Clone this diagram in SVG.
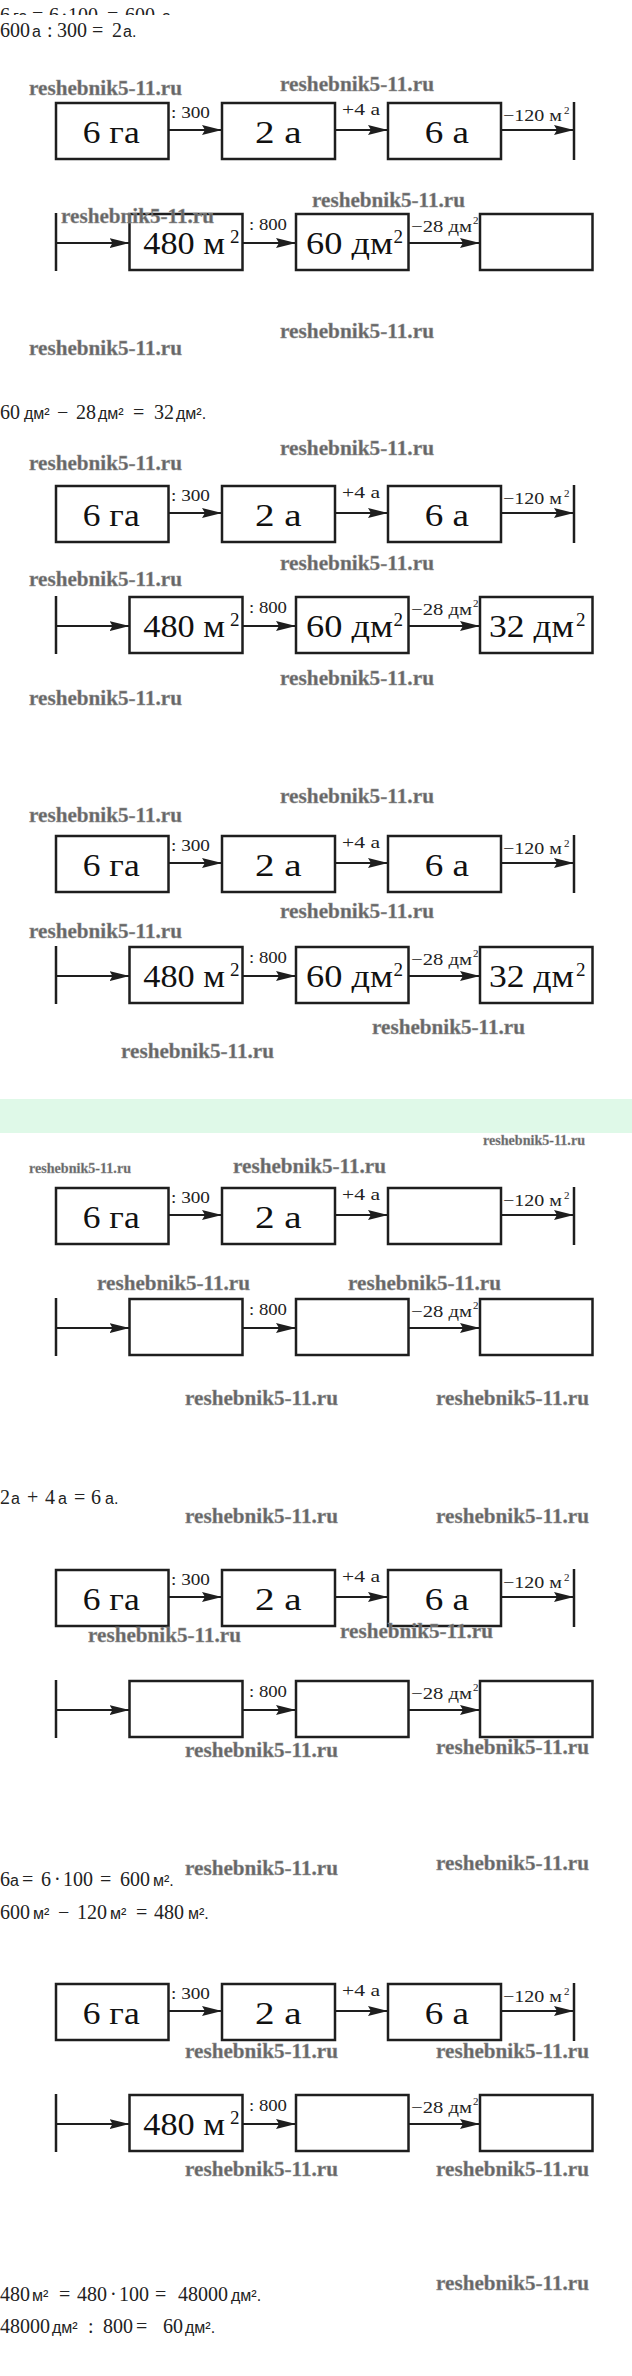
<svg xmlns="http://www.w3.org/2000/svg" width="632" height="2376" viewBox="0 0 632 2376">
<style>
.box{fill:#fff;stroke:#1e1e1e;stroke-width:2.5}
.bar{stroke:#1e1e1e;stroke-width:2.5}
.arr{stroke:#1e1e1e;stroke-width:2.2;fill:none;marker-end:url(#ah)}
.bt{font-family:"Liberation Serif",serif;font-size:31px;fill:#111}
.sp{font-family:"Liberation Serif",serif;font-size:19px;fill:#111}
.lb{font-family:"Liberation Serif",serif;font-size:17px;fill:#222}
.ls{font-family:"Liberation Serif",serif;font-size:11px;fill:#222}
.wm{font-family:"Liberation Serif",serif;font-weight:bold;font-size:20px;fill:#666;stroke:#999;stroke-width:0.4}
.ws{font-family:"Liberation Serif",serif;font-weight:bold;font-size:14px;fill:#666;stroke:#999;stroke-width:0.3}
.tx{font-family:"Liberation Serif",serif;font-size:20px;fill:#222}
.u{font-family:"Liberation Sans",sans-serif;font-size:16px}
</style>
<defs>
<marker id="ah" markerUnits="userSpaceOnUse" markerWidth="20" markerHeight="10" refX="20" refY="5" orient="auto" viewBox="0 0 20 10"><path d="M0,0 L20,5 L0,10 L3,5 Z" fill="#1e1e1e"/></marker>
<clipPath id="clip0"><rect x="0" y="0" width="632" height="15"/></clipPath>
</defs>
<rect width="632" height="2376" fill="#fff"/>
<rect id="band" x="0" y="1099" width="632" height="34" fill="#dff9e8"/>

<g id="texts">
<text class="tx" y="22" clip-path="url(#clip0)"><tspan x="0">6</tspan><tspan x="13" class="u">га</tspan><tspan x="32">=</tspan><tspan x="49">6</tspan><tspan x="61">·</tspan><tspan x="68">100</tspan><tspan x="107">=</tspan><tspan x="125">600</tspan><tspan x="162" class="u">а</tspan></text>
<text class="tx" y="36.7"><tspan x="0">600</tspan><tspan x="32" class="u">а</tspan><tspan x="47">:</tspan><tspan x="57">300</tspan><tspan x="92">=</tspan><tspan x="112">2</tspan><tspan x="123" class="u">а.</tspan></text>
<text class="tx" y="419.3"><tspan x="0">60</tspan><tspan x="24" class="u">дм²</tspan><tspan x="57">−</tspan><tspan x="76">28</tspan><tspan x="98" class="u">дм²</tspan><tspan x="133">=</tspan><tspan x="154">32</tspan><tspan x="176" class="u">дм².</tspan></text>
<text class="tx" y="1504"><tspan x="0">2</tspan><tspan x="11" class="u">а</tspan><tspan x="27">+</tspan><tspan x="45">4</tspan><tspan x="58" class="u">а</tspan><tspan x="74">=</tspan><tspan x="91">6</tspan><tspan x="105" class="u">а.</tspan></text>
<text class="tx" y="1886"><tspan x="0">6</tspan><tspan x="10" class="u">а</tspan><tspan x="22">=</tspan><tspan x="41">6</tspan><tspan x="54">·</tspan><tspan x="63">100</tspan><tspan x="100">=</tspan><tspan x="120">600</tspan><tspan x="153" class="u">м².</tspan></text>
<text class="tx" y="1919"><tspan x="0">600</tspan><tspan x="33" class="u">м²</tspan><tspan x="58">−</tspan><tspan x="77">120</tspan><tspan x="110" class="u">м²</tspan><tspan x="136">=</tspan><tspan x="154">480</tspan><tspan x="188" class="u">м².</tspan></text>
<text class="tx" y="2301"><tspan x="0">480</tspan><tspan x="32" class="u">м²</tspan><tspan x="59">=</tspan><tspan x="77">480</tspan><tspan x="110">·</tspan><tspan x="119">100</tspan><tspan x="155">=</tspan><tspan x="178">48000</tspan><tspan x="231" class="u">дм².</tspan></text>
<text class="tx" y="2333"><tspan x="0">48000</tspan><tspan x="52" class="u">дм²</tspan><tspan x="88">:</tspan><tspan x="103">800</tspan><tspan x="136">=</tspan><tspan x="163">60</tspan><tspan x="185" class="u">дм².</tspan></text>
</g>

<g id="connectors">
<g transform="translate(0,103)">
<line class="arr" x1="168.5" y1="27" x2="222" y2="27"/><line class="arr" x1="335" y1="27" x2="388" y2="27"/><line class="arr" x1="501" y1="27" x2="574" y2="27"/>
<line class="arr" x1="56" y1="140" x2="129.5" y2="140"/><line class="arr" x1="242.5" y1="140" x2="296" y2="140"/><line class="arr" x1="408.5" y1="140" x2="480" y2="140"/>
</g>
<g transform="translate(0,486)">
<line class="arr" x1="168.5" y1="27" x2="222" y2="27"/><line class="arr" x1="335" y1="27" x2="388" y2="27"/><line class="arr" x1="501" y1="27" x2="574" y2="27"/>
<line class="arr" x1="56" y1="140" x2="129.5" y2="140"/><line class="arr" x1="242.5" y1="140" x2="296" y2="140"/><line class="arr" x1="408.5" y1="140" x2="480" y2="140"/>
</g>
<g transform="translate(0,836)">
<line class="arr" x1="168.5" y1="27" x2="222" y2="27"/><line class="arr" x1="335" y1="27" x2="388" y2="27"/><line class="arr" x1="501" y1="27" x2="574" y2="27"/>
<line class="arr" x1="56" y1="140" x2="129.5" y2="140"/><line class="arr" x1="242.5" y1="140" x2="296" y2="140"/><line class="arr" x1="408.5" y1="140" x2="480" y2="140"/>
</g>
<g transform="translate(0,1188)">
<line class="arr" x1="168.5" y1="27" x2="222" y2="27"/><line class="arr" x1="335" y1="27" x2="388" y2="27"/><line class="arr" x1="501" y1="27" x2="574" y2="27"/>
<line class="arr" x1="56" y1="140" x2="129.5" y2="140"/><line class="arr" x1="242.5" y1="140" x2="296" y2="140"/><line class="arr" x1="408.5" y1="140" x2="480" y2="140"/>
</g>
<g transform="translate(0,1570)">
<line class="arr" x1="168.5" y1="27" x2="222" y2="27"/><line class="arr" x1="335" y1="27" x2="388" y2="27"/><line class="arr" x1="501" y1="27" x2="574" y2="27"/>
<line class="arr" x1="56" y1="140" x2="129.5" y2="140"/><line class="arr" x1="242.5" y1="140" x2="296" y2="140"/><line class="arr" x1="408.5" y1="140" x2="480" y2="140"/>
</g>
<g transform="translate(0,1984)">
<line class="arr" x1="168.5" y1="27" x2="222" y2="27"/><line class="arr" x1="335" y1="27" x2="388" y2="27"/><line class="arr" x1="501" y1="27" x2="574" y2="27"/>
<line class="arr" x1="56" y1="140" x2="129.5" y2="140"/><line class="arr" x1="242.5" y1="140" x2="296" y2="140"/><line class="arr" x1="408.5" y1="140" x2="480" y2="140"/>
</g>
</g>

<g id="labels">
<g transform="translate(0,103)"><text class="lb" x="171" y="15" textLength="39" lengthAdjust="spacingAndGlyphs">: 300</text><text class="lb" x="342" y="11.5" textLength="38" lengthAdjust="spacingAndGlyphs">+4 а</text><text class="lb" x="503" y="18" textLength="59" lengthAdjust="spacingAndGlyphs">−120 м</text><text class="ls" x="564" y="11">2</text><text class="lb" x="249" y="127" textLength="38" lengthAdjust="spacingAndGlyphs">: 800</text><text class="lb" x="411" y="129" textLength="61" lengthAdjust="spacingAndGlyphs">−28 дм</text><text class="ls" x="473" y="121">2</text></g>
<g transform="translate(0,486)"><text class="lb" x="171" y="15" textLength="39" lengthAdjust="spacingAndGlyphs">: 300</text><text class="lb" x="342" y="11.5" textLength="38" lengthAdjust="spacingAndGlyphs">+4 а</text><text class="lb" x="503" y="18" textLength="59" lengthAdjust="spacingAndGlyphs">−120 м</text><text class="ls" x="564" y="11">2</text><text class="lb" x="249" y="127" textLength="38" lengthAdjust="spacingAndGlyphs">: 800</text><text class="lb" x="411" y="129" textLength="61" lengthAdjust="spacingAndGlyphs">−28 дм</text><text class="ls" x="473" y="121">2</text></g>
<g transform="translate(0,836)"><text class="lb" x="171" y="15" textLength="39" lengthAdjust="spacingAndGlyphs">: 300</text><text class="lb" x="342" y="11.5" textLength="38" lengthAdjust="spacingAndGlyphs">+4 а</text><text class="lb" x="503" y="18" textLength="59" lengthAdjust="spacingAndGlyphs">−120 м</text><text class="ls" x="564" y="11">2</text><text class="lb" x="249" y="127" textLength="38" lengthAdjust="spacingAndGlyphs">: 800</text><text class="lb" x="411" y="129" textLength="61" lengthAdjust="spacingAndGlyphs">−28 дм</text><text class="ls" x="473" y="121">2</text></g>
<g transform="translate(0,1188)"><text class="lb" x="171" y="15" textLength="39" lengthAdjust="spacingAndGlyphs">: 300</text><text class="lb" x="342" y="11.5" textLength="38" lengthAdjust="spacingAndGlyphs">+4 а</text><text class="lb" x="503" y="18" textLength="59" lengthAdjust="spacingAndGlyphs">−120 м</text><text class="ls" x="564" y="11">2</text><text class="lb" x="249" y="127" textLength="38" lengthAdjust="spacingAndGlyphs">: 800</text><text class="lb" x="411" y="129" textLength="61" lengthAdjust="spacingAndGlyphs">−28 дм</text><text class="ls" x="473" y="121">2</text></g>
<g transform="translate(0,1570)"><text class="lb" x="171" y="15" textLength="39" lengthAdjust="spacingAndGlyphs">: 300</text><text class="lb" x="342" y="11.5" textLength="38" lengthAdjust="spacingAndGlyphs">+4 а</text><text class="lb" x="503" y="18" textLength="59" lengthAdjust="spacingAndGlyphs">−120 м</text><text class="ls" x="564" y="11">2</text><text class="lb" x="249" y="127" textLength="38" lengthAdjust="spacingAndGlyphs">: 800</text><text class="lb" x="411" y="129" textLength="61" lengthAdjust="spacingAndGlyphs">−28 дм</text><text class="ls" x="473" y="121">2</text></g>
<g transform="translate(0,1984)"><text class="lb" x="171" y="15" textLength="39" lengthAdjust="spacingAndGlyphs">: 300</text><text class="lb" x="342" y="11.5" textLength="38" lengthAdjust="spacingAndGlyphs">+4 а</text><text class="lb" x="503" y="18" textLength="59" lengthAdjust="spacingAndGlyphs">−120 м</text><text class="ls" x="564" y="11">2</text><text class="lb" x="249" y="127" textLength="38" lengthAdjust="spacingAndGlyphs">: 800</text><text class="lb" x="411" y="129" textLength="61" lengthAdjust="spacingAndGlyphs">−28 дм</text><text class="ls" x="473" y="121">2</text></g>
</g>

<!-- Diagram 1 -->
<g transform="translate(0,103)">
<g id="d1-n1"><rect class="box" x="56" y="0" width="112.5" height="56"/><text class="bt" x="82.7" y="40" textLength="57" lengthAdjust="spacingAndGlyphs">6 га</text></g>
<g id="d1-n2"><rect class="box" x="222" y="0" width="113" height="56"/><text class="bt" x="255" y="40" textLength="46.7" lengthAdjust="spacingAndGlyphs">2 а</text></g>
<g id="d1-n3"><rect class="box" x="388" y="0" width="113" height="56"/><text class="bt" x="424.7" y="40" textLength="44.3" lengthAdjust="spacingAndGlyphs">6 а</text></g>
<g id="d1-end"><line class="bar" x1="574" y1="-1" x2="574" y2="57"/></g>
<g id="d1-start"><line class="bar" x1="56" y1="110" x2="56" y2="168"/></g>
<g id="d1-n4"><rect class="box" x="129.5" y="111" width="113" height="56"/><text class="bt" x="143.3" y="151" textLength="81.7" lengthAdjust="spacingAndGlyphs">480 м</text><text class="sp" x="230" y="140">2</text></g>
<g id="d1-n5"><rect class="box" x="296" y="111" width="112.5" height="56"/><text class="bt" x="306" y="151" textLength="87" lengthAdjust="spacingAndGlyphs">60 дм</text><text class="sp" x="393.5" y="140">2</text></g>
<g id="d1-n6"><rect class="box" x="480" y="111" width="112.5" height="56"/></g>
</g>

<!-- Diagram 2 -->
<g transform="translate(0,486)">
<g id="d2-n1"><rect class="box" x="56" y="0" width="112.5" height="56"/><text class="bt" x="82.7" y="40" textLength="57" lengthAdjust="spacingAndGlyphs">6 га</text></g>
<g id="d2-n2"><rect class="box" x="222" y="0" width="113" height="56"/><text class="bt" x="255" y="40" textLength="46.7" lengthAdjust="spacingAndGlyphs">2 а</text></g>
<g id="d2-n3"><rect class="box" x="388" y="0" width="113" height="56"/><text class="bt" x="424.7" y="40" textLength="44.3" lengthAdjust="spacingAndGlyphs">6 а</text></g>
<g id="d2-end"><line class="bar" x1="574" y1="-1" x2="574" y2="57"/></g>
<g id="d2-start"><line class="bar" x1="56" y1="110" x2="56" y2="168"/></g>
<g id="d2-n4"><rect class="box" x="129.5" y="111" width="113" height="56"/><text class="bt" x="143.3" y="151" textLength="81.7" lengthAdjust="spacingAndGlyphs">480 м</text><text class="sp" x="230" y="140">2</text></g>
<g id="d2-n5"><rect class="box" x="296" y="111" width="112.5" height="56"/><text class="bt" x="306" y="151" textLength="87" lengthAdjust="spacingAndGlyphs">60 дм</text><text class="sp" x="393.5" y="140">2</text></g>
<g id="d2-n6"><rect class="box" x="480" y="111" width="112.5" height="56"/><text class="bt" x="489" y="151" textLength="85" lengthAdjust="spacingAndGlyphs">32 дм</text><text class="sp" x="576" y="140">2</text></g>
</g>

<!-- Diagram 3 -->
<g transform="translate(0,836)">
<g id="d3-n1"><rect class="box" x="56" y="0" width="112.5" height="56"/><text class="bt" x="82.7" y="40" textLength="57" lengthAdjust="spacingAndGlyphs">6 га</text></g>
<g id="d3-n2"><rect class="box" x="222" y="0" width="113" height="56"/><text class="bt" x="255" y="40" textLength="46.7" lengthAdjust="spacingAndGlyphs">2 а</text></g>
<g id="d3-n3"><rect class="box" x="388" y="0" width="113" height="56"/><text class="bt" x="424.7" y="40" textLength="44.3" lengthAdjust="spacingAndGlyphs">6 а</text></g>
<g id="d3-end"><line class="bar" x1="574" y1="-1" x2="574" y2="57"/></g>
<g id="d3-start"><line class="bar" x1="56" y1="110" x2="56" y2="168"/></g>
<g id="d3-n4"><rect class="box" x="129.5" y="111" width="113" height="56"/><text class="bt" x="143.3" y="151" textLength="81.7" lengthAdjust="spacingAndGlyphs">480 м</text><text class="sp" x="230" y="140">2</text></g>
<g id="d3-n5"><rect class="box" x="296" y="111" width="112.5" height="56"/><text class="bt" x="306" y="151" textLength="87" lengthAdjust="spacingAndGlyphs">60 дм</text><text class="sp" x="393.5" y="140">2</text></g>
<g id="d3-n6"><rect class="box" x="480" y="111" width="112.5" height="56"/><text class="bt" x="489" y="151" textLength="85" lengthAdjust="spacingAndGlyphs">32 дм</text><text class="sp" x="576" y="140">2</text></g>
</g>

<!-- Diagram 4 -->
<g transform="translate(0,1188)">
<g id="d4-n1"><rect class="box" x="56" y="0" width="112.5" height="56"/><text class="bt" x="82.7" y="40" textLength="57" lengthAdjust="spacingAndGlyphs">6 га</text></g>
<g id="d4-n2"><rect class="box" x="222" y="0" width="113" height="56"/><text class="bt" x="255" y="40" textLength="46.7" lengthAdjust="spacingAndGlyphs">2 а</text></g>
<g id="d4-n3"><rect class="box" x="388" y="0" width="113" height="56"/></g>
<g id="d4-end"><line class="bar" x1="574" y1="-1" x2="574" y2="57"/></g>
<g id="d4-start"><line class="bar" x1="56" y1="110" x2="56" y2="168"/></g>
<g id="d4-n4"><rect class="box" x="129.5" y="111" width="113" height="56"/></g>
<g id="d4-n5"><rect class="box" x="296" y="111" width="112.5" height="56"/></g>
<g id="d4-n6"><rect class="box" x="480" y="111" width="112.5" height="56"/></g>
</g>

<!-- Diagram 5 -->
<g transform="translate(0,1570)">
<g id="d5-n1"><rect class="box" x="56" y="0" width="112.5" height="56"/><text class="bt" x="82.7" y="40" textLength="57" lengthAdjust="spacingAndGlyphs">6 га</text></g>
<g id="d5-n2"><rect class="box" x="222" y="0" width="113" height="56"/><text class="bt" x="255" y="40" textLength="46.7" lengthAdjust="spacingAndGlyphs">2 а</text></g>
<g id="d5-n3"><rect class="box" x="388" y="0" width="113" height="56"/><text class="bt" x="424.7" y="40" textLength="44.3" lengthAdjust="spacingAndGlyphs">6 а</text></g>
<g id="d5-end"><line class="bar" x1="574" y1="-1" x2="574" y2="57"/></g>
<g id="d5-start"><line class="bar" x1="56" y1="110" x2="56" y2="168"/></g>
<g id="d5-n4"><rect class="box" x="129.5" y="111" width="113" height="56"/></g>
<g id="d5-n5"><rect class="box" x="296" y="111" width="112.5" height="56"/></g>
<g id="d5-n6"><rect class="box" x="480" y="111" width="112.5" height="56"/></g>
</g>

<!-- Diagram 6 -->
<g transform="translate(0,1984)">
<g id="d6-n1"><rect class="box" x="56" y="0" width="112.5" height="56"/><text class="bt" x="82.7" y="40" textLength="57" lengthAdjust="spacingAndGlyphs">6 га</text></g>
<g id="d6-n2"><rect class="box" x="222" y="0" width="113" height="56"/><text class="bt" x="255" y="40" textLength="46.7" lengthAdjust="spacingAndGlyphs">2 а</text></g>
<g id="d6-n3"><rect class="box" x="388" y="0" width="113" height="56"/><text class="bt" x="424.7" y="40" textLength="44.3" lengthAdjust="spacingAndGlyphs">6 а</text></g>
<g id="d6-end"><line class="bar" x1="574" y1="-1" x2="574" y2="57"/></g>
<g id="d6-start"><line class="bar" x1="56" y1="110" x2="56" y2="168"/></g>
<g id="d6-n4"><rect class="box" x="129.5" y="111" width="113" height="56"/><text class="bt" x="143.3" y="151" textLength="81.7" lengthAdjust="spacingAndGlyphs">480 м</text><text class="sp" x="230" y="140">2</text></g>
<g id="d6-n5"><rect class="box" x="296" y="111" width="112.5" height="56"/></g>
<g id="d6-n6"><rect class="box" x="480" y="111" width="112.5" height="56"/></g>
</g>

<g id="watermarks">
<text class="wm" x="29" y="95" textLength="153" lengthAdjust="spacingAndGlyphs">reshebnik5-11.ru</text>
<text class="wm" x="280" y="91" textLength="154" lengthAdjust="spacingAndGlyphs">reshebnik5-11.ru</text>
<text class="wm" x="61" y="223" textLength="153" lengthAdjust="spacingAndGlyphs">reshebnik5-11.ru</text>
<text class="wm" x="312" y="207" textLength="153" lengthAdjust="spacingAndGlyphs">reshebnik5-11.ru</text>
<text class="wm" x="280" y="338" textLength="154" lengthAdjust="spacingAndGlyphs">reshebnik5-11.ru</text>
<text class="wm" x="29" y="355" textLength="153" lengthAdjust="spacingAndGlyphs">reshebnik5-11.ru</text>
<text class="wm" x="280" y="455" textLength="154" lengthAdjust="spacingAndGlyphs">reshebnik5-11.ru</text>
<text class="wm" x="29" y="470" textLength="153" lengthAdjust="spacingAndGlyphs">reshebnik5-11.ru</text>
<text class="wm" x="280" y="570" textLength="154" lengthAdjust="spacingAndGlyphs">reshebnik5-11.ru</text>
<text class="wm" x="29" y="586" textLength="153" lengthAdjust="spacingAndGlyphs">reshebnik5-11.ru</text>
<text class="wm" x="280" y="685" textLength="154" lengthAdjust="spacingAndGlyphs">reshebnik5-11.ru</text>
<text class="wm" x="29" y="705" textLength="153" lengthAdjust="spacingAndGlyphs">reshebnik5-11.ru</text>
<text class="wm" x="280" y="803" textLength="154" lengthAdjust="spacingAndGlyphs">reshebnik5-11.ru</text>
<text class="wm" x="29" y="822" textLength="153" lengthAdjust="spacingAndGlyphs">reshebnik5-11.ru</text>
<text class="wm" x="280" y="918" textLength="154" lengthAdjust="spacingAndGlyphs">reshebnik5-11.ru</text>
<text class="wm" x="29" y="938" textLength="153" lengthAdjust="spacingAndGlyphs">reshebnik5-11.ru</text>
<text class="wm" x="372" y="1034" textLength="153" lengthAdjust="spacingAndGlyphs">reshebnik5-11.ru</text>
<text class="wm" x="121" y="1058" textLength="153" lengthAdjust="spacingAndGlyphs">reshebnik5-11.ru</text>
<text class="ws" x="483" y="1145" textLength="102" lengthAdjust="spacingAndGlyphs">reshebnik5-11.ru</text>
<text class="ws" x="29" y="1173" textLength="102" lengthAdjust="spacingAndGlyphs">reshebnik5-11.ru</text>
<text class="wm" x="233" y="1173" textLength="153" lengthAdjust="spacingAndGlyphs">reshebnik5-11.ru</text>
<text class="wm" x="97" y="1290" textLength="153" lengthAdjust="spacingAndGlyphs">reshebnik5-11.ru</text>
<text class="wm" x="348" y="1290" textLength="153" lengthAdjust="spacingAndGlyphs">reshebnik5-11.ru</text>
<text class="wm" x="185" y="1405" textLength="153" lengthAdjust="spacingAndGlyphs">reshebnik5-11.ru</text>
<text class="wm" x="436" y="1405" textLength="153" lengthAdjust="spacingAndGlyphs">reshebnik5-11.ru</text>
<text class="wm" x="185" y="1523" textLength="153" lengthAdjust="spacingAndGlyphs">reshebnik5-11.ru</text>
<text class="wm" x="436" y="1523" textLength="153" lengthAdjust="spacingAndGlyphs">reshebnik5-11.ru</text>
<text class="wm" x="88" y="1642" textLength="153" lengthAdjust="spacingAndGlyphs">reshebnik5-11.ru</text>
<text class="wm" x="340" y="1638" textLength="153" lengthAdjust="spacingAndGlyphs">reshebnik5-11.ru</text>
<text class="wm" x="185" y="1757" textLength="153" lengthAdjust="spacingAndGlyphs">reshebnik5-11.ru</text>
<text class="wm" x="436" y="1754" textLength="153" lengthAdjust="spacingAndGlyphs">reshebnik5-11.ru</text>
<text class="wm" x="185" y="1875" textLength="153" lengthAdjust="spacingAndGlyphs">reshebnik5-11.ru</text>
<text class="wm" x="436" y="1870" textLength="153" lengthAdjust="spacingAndGlyphs">reshebnik5-11.ru</text>
<text class="wm" x="185" y="2058" textLength="153" lengthAdjust="spacingAndGlyphs">reshebnik5-11.ru</text>
<text class="wm" x="436" y="2058" textLength="153" lengthAdjust="spacingAndGlyphs">reshebnik5-11.ru</text>
<text class="wm" x="185" y="2176" textLength="153" lengthAdjust="spacingAndGlyphs">reshebnik5-11.ru</text>
<text class="wm" x="436" y="2176" textLength="153" lengthAdjust="spacingAndGlyphs">reshebnik5-11.ru</text>
<text class="wm" x="436" y="2290" textLength="153" lengthAdjust="spacingAndGlyphs">reshebnik5-11.ru</text>
</g>
</svg>
